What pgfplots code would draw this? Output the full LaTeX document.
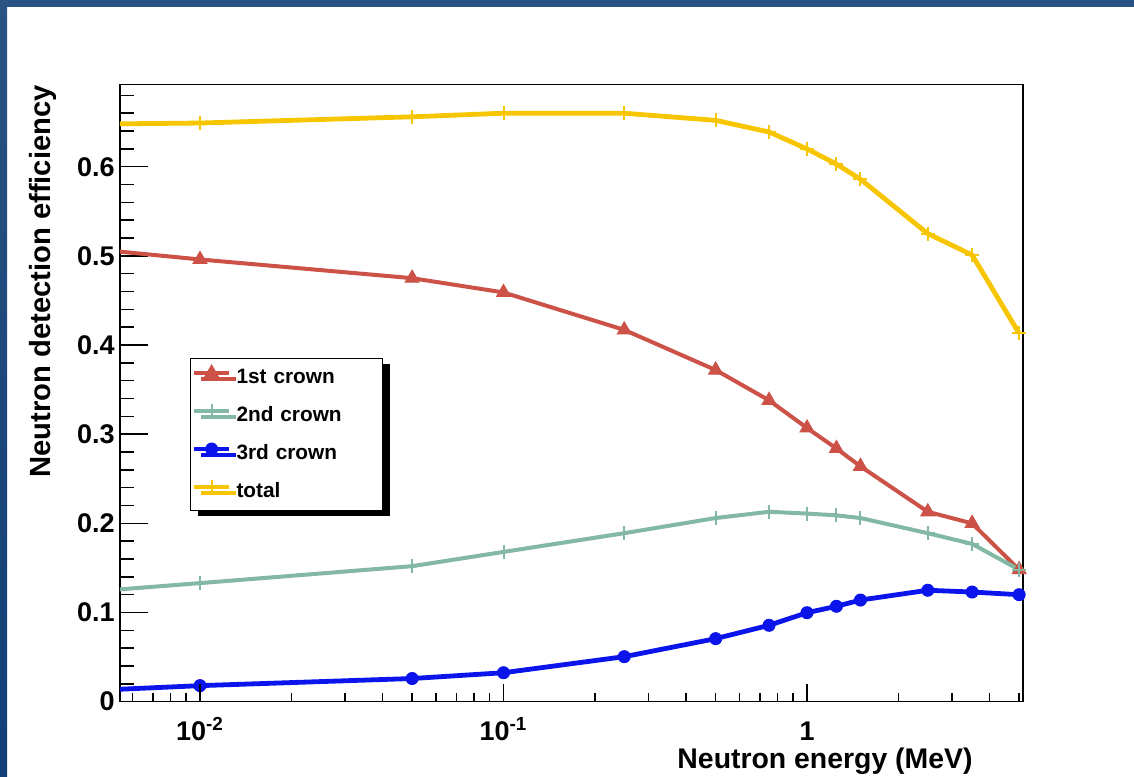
\documentclass[border=0pt]{standalone}
\usepackage{fontspec}
\setmainfont{Liberation Sans}
\usepackage{pgfplots}
\usepackage{pgfplotstable}
\pgfplotsset{compat=1.18}
\usetikzlibrary{shadows}
\definecolor{c1}{RGB}{204,82,72}
\definecolor{c2}{RGB}{130,184,164}
\definecolor{c3}{RGB}{10,20,235}
\definecolor{c4}{RGB}{247,198,0}
\definecolor{bgblue}{RGB}{42,82,130}
\definecolor{bgblue2}{RGB}{18,62,118}

\pgfplotstableread{
x      total  first  second third
0.005  0.648  0.506  0.125  0.0134
0.01   0.649  0.496  0.133  0.018
0.05   0.656  0.475  0.152  0.026
0.1    0.660  0.459  0.168  0.0325
0.25   0.660  0.417  0.189  0.0505
0.5    0.652  0.372  0.206  0.0707
0.75   0.639  0.338  0.213  0.0857
1      0.620  0.307  0.211  0.0998
1.25   0.603  0.284  0.209  0.107
1.5    0.586  0.264  0.206  0.114
2.5    0.525  0.213  0.189  0.125
3.5    0.501  0.200  0.177  0.123
5      0.413  0.148  0.148  0.120
}\datatable

\begin{document}
\begin{tikzpicture}[x=0.5pt,y=0.5pt]
\useasboundingbox (0,0) rectangle (1134,776);
\fill[white] (0,0) rectangle (1134,776);
\shade[top color=bgblue, bottom color=bgblue2] (0,0) rectangle (7,776);
\fill[bgblue] (0,769) rectangle (1134,776);

\begin{axis}[
  at={(60pt,37.15pt)}, anchor=south west, scale only axis,
  width=451.5pt, height=308.5pt,
  xmode=log, xmin=0.00545, xmax=5.148, ymin=0, ymax=0.692,
  axis line style={black, line width=0.75pt},
  xtick={0.01,0.1,1},
  xticklabels={10\textsuperscript{-2},10\textsuperscript{-1},1},
  ytick={0,0.1,0.2,0.3,0.4,0.5,0.6},
  yticklabels={0,0.1,0.2,0.3,0.4,0.5,0.6},
  minor ytick={0.02,0.04,0.06,0.08,0.12,0.14,0.16,0.18,0.22,0.24,0.26,0.28,0.32,0.34,0.36,0.38,0.42,0.44,0.46,0.48,0.52,0.54,0.56,0.58,0.62,0.64,0.66,0.68},
  xtick pos=bottom, ytick pos=left, tick align=inside,
  major tick length=14pt, minor tick length=7pt,
  tick style={black, line width=0.75pt},
  xtick style={draw=none},
  tick label style={font=\fontsize{13.5}{16}\selectfont\bfseries, inner sep=0pt},
  yticklabel style={anchor=east, xshift=-2.5pt},
  xticklabel style={anchor=base, yshift=-19.5pt},
  xlabel={Neutron energy (MeV)},
  xlabel style={at={(axis description cs:0.9446,-0.1086)}, anchor=base east,
    font=\fontsize{14.2}{17}\selectfont\bfseries, inner sep=0pt},
  ylabel={Neutron detection efficiency},
  ylabel style={at={(axis description cs:-0.0775,1)}, anchor=base east,
    font=\fontsize{14.6}{17}\selectfont\bfseries, inner sep=0pt},
  legend image code/.code={
    \draw[#1, mark=none] (0pt,2.2pt) -- (17.5pt,2.2pt);
    \draw[#1, only marks] plot coordinates {(8.75pt,2.2pt)};
  },
  legend cell align=left,
  legend style={at={(axis description cs:0.0775,0.5575)}, anchor=north west,
    draw=black, line width=0.75pt, fill=white,
    inner xsep=0.5pt, inner ysep=0pt, row sep=0pt, column sep=2.5pt,
    font=\fontsize{10.4}{12}\selectfont\bfseries,
    drop shadow={shadow xshift=3.5pt, shadow yshift=-3pt, fill=black, opacity=1},
    nodes={inner sep=0pt, minimum height=19pt, text width=72.5pt, line width=0.4pt}},
]
\addplot[c1, line width=2pt, mark=triangle*, mark size=4pt, mark indices={1,...,12},
  mark options={solid, fill=c1, line width=0.5pt}] table[x=x, y=first] {\datatable};
\addlegendentry{1st crown}
\addplot[c2, line width=2pt, mark=+, mark size=3.5pt, mark indices={1,...,12},
  mark options={solid, line width=1pt}] table[x=x, y=second] {\datatable};
\addlegendentry{2nd crown}
\addplot[c3, line width=2.4pt, mark=*, mark size=3pt, mark indices={1,...,12},
  mark options={solid, fill=c3, line width=0.5pt}] table[x=x, y=third] {\datatable};
\addlegendentry{3rd crown}
\addplot[c4, line width=2.4pt, mark=+, mark size=3.5pt, mark indices={1,...,12},
  mark options={solid, line width=1pt}] table[x=x, y=total] {\datatable};
\addlegendentry{total}
\end{axis}

\begin{axis}[
  at={(60pt,37.15pt)}, anchor=south west, scale only axis,
  width=451.5pt, height=308.5pt,
  xmode=log, xmin=0.00545, xmax=5.148, ymin=0, ymax=0.692,
  axis line style={draw=none},
  xtick={0.01,0.1,1}, xticklabels={,,},
  minor xtick={0.006,0.007,0.008,0.009,0.02,0.03,0.04,0.05,0.06,0.07,0.08,0.09,0.2,0.3,0.4,0.5,0.6,0.7,0.8,0.9,2,3,4,5},
  ytick=\empty,
  xtick pos=bottom, tick align=inside,
  major tick length=9pt, minor tick length=4.5pt,
  tick style={black, line width=0.75pt},
]
\end{axis}
\end{tikzpicture}
\end{document}
